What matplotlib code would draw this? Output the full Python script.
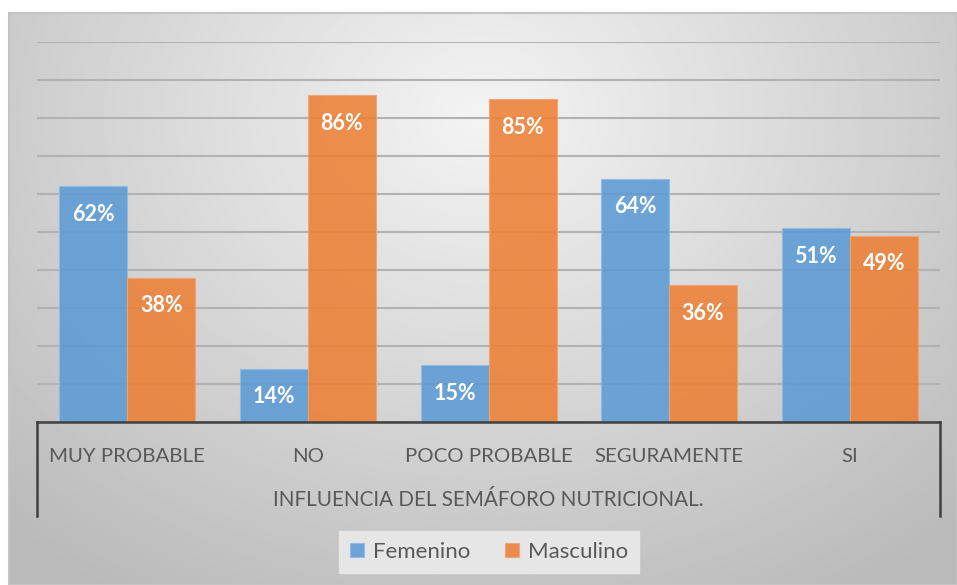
import numpy as np
import matplotlib
matplotlib.use("Agg")
import matplotlib.pyplot as plt
from matplotlib.patches import Rectangle
from matplotlib.lines import Line2D

categories = ["MUY PROBABLE", "NO", "POCO PROBABLE", "SEGURAMENTE", "SI"]
femenino = [62, 14, 15, 64, 51]
masculino = [38, 86, 85, 36, 49]
group_label = "INFLUENCIA DEL SEMÁFORO NUTRICIONAL."
series_names = ["Femenino", "Masculino"]

plt.rcParams["font.family"] = ["Lato", "DejaVu Sans"]

W, H = 957, 585
fig = plt.figure(figsize=(W / 100, H / 100), dpi=100)
fig.patch.set_facecolor("white")

# chart area with a soft radial grey gradient
bg = fig.add_axes([9 / W, 0, (W - 9) / W, (H - 13) / H], zorder=0)
yy, xx = np.mgrid[0:1:300j, 0:1:500j]
r = np.sqrt(((xx - 0.5) / 0.75) ** 2 + ((yy - 0.18) / 1.0) ** 2)
val = np.clip(0.955 - 0.23 * r, 0.73, 0.96)
bg.imshow(val, cmap="gray", vmin=0, vmax=1, aspect="auto",
          extent=[0, 1, 1, 0], interpolation="bilinear")
bg.set_xlim(0, 1)
bg.set_ylim(1, 0)
bg.axis("off")
fig.add_artist(Rectangle((9 / W, 0), (W - 9) / W, (H - 13) / H,
                         transform=fig.transFigure, fill=False,
                         edgecolor="#c4c4c4", linewidth=1.5, zorder=1))

ax = fig.add_axes([37 / W, (H - 422) / H, (940 - 37) / W, 380 / H], zorder=2)
ax.patch.set_alpha(0)

x = np.arange(len(categories))
w = 68 / 180.6
blue = "#5b9bd5"
orange = "#ed7d31"
b1 = ax.bar(x - w / 2, femenino, w, color=blue, alpha=0.88,
            edgecolor="#8dbbe6", linewidth=0.8, zorder=3, label=series_names[0])
b2 = ax.bar(x + w / 2, masculino, w, color=orange, alpha=0.85,
            edgecolor="#f2a36e", linewidth=0.8, zorder=3, label=series_names[1])

for bars, vals in ((b1, femenino), (b2, masculino)):
    for rect, v in zip(bars, vals):
        ax.annotate(f"{v}%", (rect.get_x() + rect.get_width() / 2, v),
                    xytext=(0, -28 * 0.72), textcoords="offset points",
                    ha="center", va="center", color="white",
                    fontsize=15.5, fontweight="bold", zorder=4)

ax.set_xlim(-0.5, len(categories) - 0.5)
ax.set_ylim(0, 100)
ax.set_yticks(np.arange(0, 101, 10))
ax.yaxis.grid(True, color="#b2b2b2", linewidth=1.5, zorder=1)
ax.set_axisbelow(True)
ax.tick_params(left=False, labelleft=False, bottom=False)
for s in ("top", "right", "left"):
    ax.spines[s].set_visible(False)
ax.spines["bottom"].set_color("#404040")
ax.spines["bottom"].set_linewidth(1.8)
ax.spines["bottom"].set_zorder(5)

ax.set_xticks(x)
ax.set_xticklabels(categories, fontsize=14.7, color="#595959")
ax.tick_params(axis="x", pad=15)

# outer brackets of the multi-level category axis
low = -94 / 380
for xa in (0, 1):
    ax.add_line(Line2D([xa, xa], [0, low], transform=ax.transAxes,
                       color="#404040", linewidth=1.8, clip_on=False))
ax.text(0.5, -78 / 380, group_label, transform=ax.transAxes,
        ha="center", va="center", fontsize=14.9, color="#595959")

leg = fig.legend(handles=[b1, b2], labels=series_names,
                 loc="center", bbox_to_anchor=(489 / W, 1 - 552 / H),
                 ncol=2, frameon=True, fontsize=16, handlelength=0.6,
                 handleheight=0.6, handletextpad=0.4, columnspacing=1.6,
                 borderpad=0.5, labelcolor="#595959")
leg.get_frame().set_facecolor("#e6e6e6")
leg.get_frame().set_edgecolor("#e6e6e6")
leg.get_frame().set_alpha(1)
leg.get_frame().set_boxstyle("square", pad=0)

fig.savefig("out.png", dpi=100)
